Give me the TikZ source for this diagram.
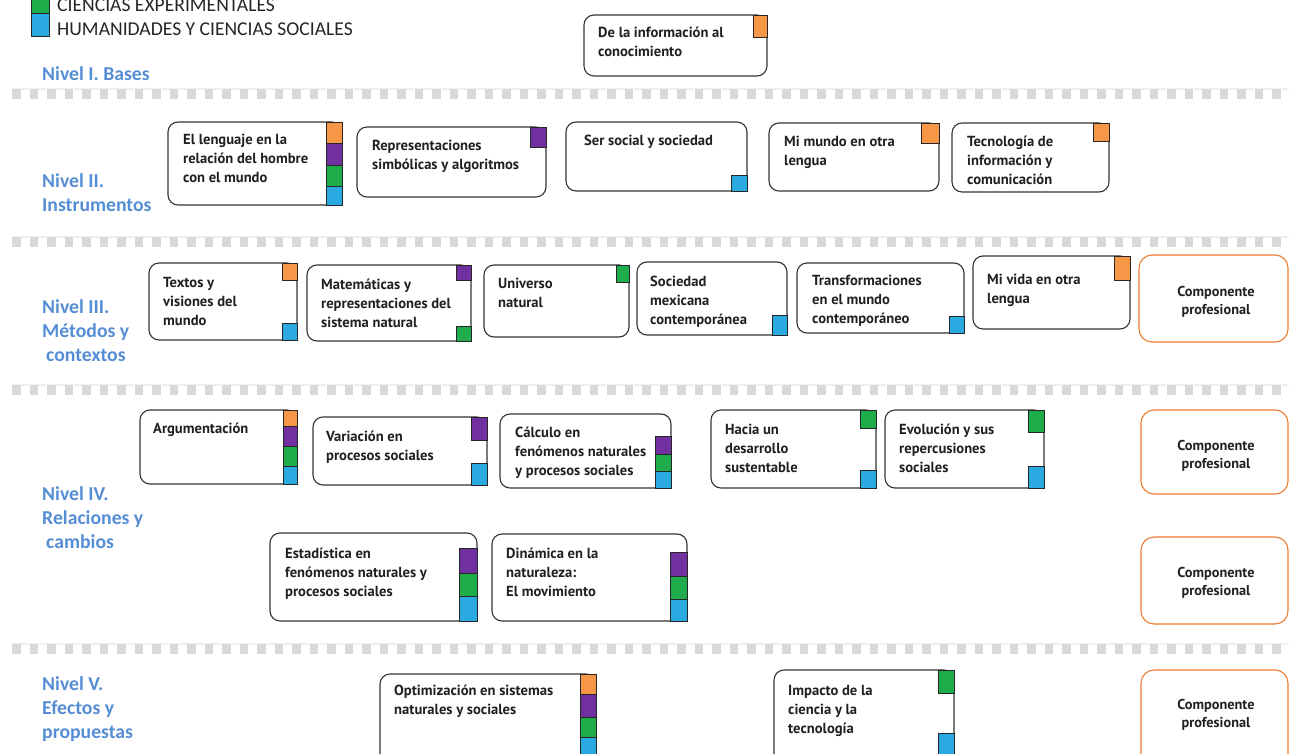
\documentclass[tikz,border=0pt]{standalone}
\usepackage{fontspec}
\setmainfont{PT Sans}
\newfontfamily\calfont{Carlito}
\definecolor{sqor}{RGB}{247,150,70}
\definecolor{sqpu}{RGB}{112,48,160}
\definecolor{sqgr}{RGB}{31,173,75}
\definecolor{sqbl}{RGB}{41,171,226}
\definecolor{nivblue}{RGB}{85,142,213}
\definecolor{cporange}{RGB}{237,125,49}
\definecolor{sepgray}{RGB}{217,217,217}
\definecolor{sepbg}{RGB}{240,240,240}
\definecolor{txtgray}{RGB}{35,31,32}
\newcommand\ml[1]{\begin{tabular}[t]{@{}l@{}}#1\end{tabular}}
\newcommand\bx[5]{\node[boxst,minimum width={#4-#2},minimum height={#5-#3}] (#1) at ({(#2+#4)/2},{(#3+#5)/2}) {};}
\newcommand\cp[5]{\node[cpst,minimum width={#4-#2},minimum height={#5-#3}] (#1) at ({(#2+#4)/2},{(#3+#5)/2}) {};}
\newcommand\sqr[5]{\draw[sqst,fill=#1] (#2,#3) rectangle (#4,#5);}
\tikzset{
  boxst/.style={draw=black!80, line width=1.1pt, rounded corners=10pt, fill=white, inner sep=0pt, outer sep=0pt},
  cpst/.style={draw=cporange, line width=1.1pt, rounded corners=13pt, inner sep=0pt, outer sep=0pt},
  sqst/.style={draw=black!85, line width=0.7pt},
  txt/.style={anchor=base west, inner sep=0pt, font=\fontsize{14.6}{19}\selectfont\bfseries, text=txtgray},
  cptxt/.style={align=center, inner sep=0pt, font=\fontsize{14.3}{18}\selectfont\bfseries, text=txtgray},
  niv/.style={anchor=base west, inner sep=0pt, font=\calfont\fontsize{19.7}{24}\selectfont\bfseries, text=nivblue},
  legtxt/.style={anchor=base west, inner sep=0pt, font=\calfont\fontsize{19.6}{24}\selectfont, text=black!85},
  sepline/.style={draw=sepgray, line width=10pt, dash pattern=on 8.3pt off 9.2pt},
  seplight/.style={draw=sepbg, line width=1.5pt},
}
\begin{document}
\begin{tikzpicture}[x=1pt,y=-1pt]
\useasboundingbox[fill=white] (0,0) rectangle (1289,754);

% legend
\draw[sqst,fill=sqgr] (31,-8) rectangle (49,13.5);
\draw[sqst,fill=sqbl] (31,13.5) rectangle (49,36);
\node[legtxt] (lg1) at (57,12) {CIENCIAS EXPERIMENTALES};
\node[legtxt] (lg2) at (57,36) {HUMANIDADES Y CIENCIAS SOCIALES};

% separators
\foreach \yy in {94,242,390,649}{
  \draw[seplight] (12,\yy-5) -- (1289,\yy-5);
  \draw[sepline] (12.3,\yy) -- (1289,\yy);
}

% level labels
\node[niv] (n1) at (42,81) {Nivel I. Bases};
\node[niv] (n2) at (42,188) {\ml{Nivel II.\\Instrumentos}};
\node[niv] (n3) at (42,313) {\ml{Nivel III.\\Métodos y\\\hspace{4pt}contextos}};
\node[niv] (n4) at (42,500) {\ml{Nivel IV.\\Relaciones y\\\hspace{4pt}cambios}};
\node[niv] (n5) at (42,690) {\ml{Nivel V.\\Efectos y\\propuestas}};

% Level I
\bx{b0}{584}{15}{767}{76}
\sqr{sqor}{753}{15}{767}{37}
\node[txt] (t0) at (598,38) {\ml{De la información al\\conocimiento}};

% Level II
\bx{b1}{168}{122}{342}{205}
\sqr{sqor}{326}{122}{342}{143}
\sqr{sqpu}{326}{143}{342}{165}
\sqr{sqgr}{326}{165}{342}{186}
\sqr{sqbl}{326}{186}{342}{205}
\node[txt] (t1) at (183,145) {\ml{El lenguaje en la\\relación del hombre\\con el mundo}};

\bx{b2}{357}{127}{546}{197}
\sqr{sqpu}{530}{127}{546}{147}
\node[txt] (t2) at (372,151) {\ml{Representaciones\\simbólicas y algoritmos}};

\bx{b3}{566}{122}{747}{191}
\sqr{sqbl}{731}{175}{747}{191}
\node[txt] (t3) at (584,146) {Ser social y sociedad};

\bx{b4}{769}{123}{939}{191}
\sqr{sqor}{921}{123}{939}{143}
\node[txt] (t4) at (784,147) {\ml{Mi mundo en otra\\lengua}};

\bx{b5}{952}{123}{1109}{192}
\sqr{sqor}{1093}{123}{1109}{141}
\node[txt] (t5) at (967,147) {\ml{Tecnología de\\información y\\comunicación}};

% Level III
\bx{b6}{149}{263}{297}{340}
\sqr{sqor}{282}{263}{297}{280}
\sqr{sqbl}{282}{323}{297}{340}
\node[txt] (t6) at (163,287) {\ml{Textos y\\visiones del\\mundo}};

\bx{b7}{307}{265}{471}{341}
\sqr{sqpu}{456}{265}{471}{280}
\sqr{sqgr}{456}{326}{471}{341}
\node[txt] (t7) at (321,289) {\ml{Matemáticas y\\representaciones del\\sistema natural}};

\bx{b8}{484}{265}{629}{337}
\sqr{sqgr}{616}{265}{629}{282}
\node[txt] (t8) at (498,288) {\ml{Universo\\natural}};

\bx{b9}{637}{262}{787}{335}
\sqr{sqbl}{772}{315}{787}{335}
\node[txt] (t9) at (650,286) {\ml{Sociedad\\mexicana\\contemporánea}};

\bx{b10}{797}{263}{964}{333}
\sqr{sqbl}{949}{316}{964}{333}
\node[txt] (t10) at (812,285) {\ml{Transformaciones\\en el mundo\\contemporáneo}};

\bx{b11}{973}{256}{1130}{329}
\sqr{sqor}{1114}{256}{1130}{280}
\node[txt] (t11) at (987,284) {\ml{Mi vida en otra\\lengua}};

\cp{c1}{1139}{255}{1288}{342}
\node[cptxt] (ct1) at (1216,302) {Componente\\profesional};

% Level IV
\bx{b12}{140}{410}{297}{484}
\sqr{sqor}{283}{410}{297}{426}
\sqr{sqpu}{283}{426}{297}{446}
\sqr{sqgr}{283}{446}{297}{466}
\sqr{sqbl}{283}{466}{297}{484}
\node[txt] (t12) at (153,433) {Argumentación};

\bx{b13}{313}{417}{487}{485}
\sqr{sqpu}{471}{417}{487}{440}
\sqr{sqbl}{471}{463}{487}{485}
\node[txt] (t13) at (326,441) {\ml{Variación en\\procesos sociales}};

\bx{b14}{500}{414}{671}{488}
\sqr{sqpu}{655}{436}{671}{454}
\sqr{sqgr}{655}{454}{671}{471}
\sqr{sqbl}{655}{471}{671}{488}
\node[txt] (t14) at (515,437) {\ml{Cálculo en\\fenómenos naturales\\y procesos sociales}};

\bx{b15}{711}{410}{876}{488}
\sqr{sqgr}{860}{410}{876}{428}
\sqr{sqbl}{860}{470}{876}{488}
\node[txt] (t15) at (725,434) {\ml{Hacia un\\desarrollo\\sustentable}};

\bx{b16}{885}{410}{1044}{488}
\sqr{sqgr}{1028}{410}{1044}{432}
\sqr{sqbl}{1028}{466}{1044}{488}
\node[txt] (t16) at (899,434) {\ml{Evolución y sus\\repercusiones\\sociales}};

\cp{c2}{1141}{410}{1288}{494}
\node[cptxt] (ct2) at (1216,456) {Componente\\profesional};

\bx{b17}{270}{533}{477}{621}
\sqr{sqpu}{459}{548}{477}{573}
\sqr{sqgr}{459}{573}{477}{596}
\sqr{sqbl}{459}{596}{477}{621}
\node[txt] (t17) at (285,558) {\ml{Estadística en\\fenómenos naturales y\\procesos sociales}};

\bx{b18}{492}{534}{687}{621}
\sqr{sqpu}{670}{552}{687}{576}
\sqr{sqgr}{670}{576}{687}{599}
\sqr{sqbl}{670}{599}{687}{621}
\node[txt] (t18) at (506,558) {\ml{Dinámica en la\\naturaleza:\\El movimiento}};

\cp{c3}{1141}{537}{1288}{624}
\node[cptxt] (ct3) at (1216,583) {Componente\\profesional};

% Level V
\bx{b19}{380}{674}{596}{790}
\sqr{sqor}{580}{674}{596}{694}
\sqr{sqpu}{580}{694}{596}{717}
\sqr{sqgr}{580}{717}{596}{737}
\sqr{sqbl}{580}{737}{596}{760}
\node[txt] (t19) at (394,695) {\ml{Optimización en sistemas\\naturales y sociales}};

\bx{b20}{774}{670}{954}{790}
\sqr{sqgr}{938}{670}{954}{693}
\sqr{sqbl}{938}{733}{954}{760}
\node[txt] (t20) at (788,695) {\ml{Impacto de la\\ciencia y la\\tecnología}};

\cp{c4}{1141}{670}{1288}{790}
\node[cptxt] (ct4) at (1216,715) {Componente\\profesional};
\end{tikzpicture}
\end{document}
